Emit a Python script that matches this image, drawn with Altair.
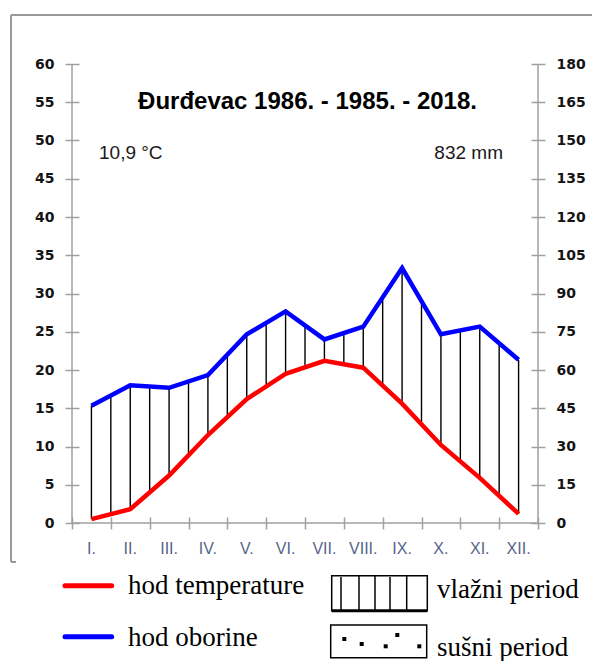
import altair as alt
import pandas as pd
import numpy as np

# ---------------- data ----------------
MONTHS = ["I.", "II.", "III.", "IV.", "V.", "VI.", "VII.", "VIII.", "IX.", "X.", "XI.", "XII."]
TEMP = [0.5, 1.8, 6.2, 11.5, 16.2, 19.5, 21.2, 20.3, 15.6, 10.2, 5.9, 1.2]       # °C
PRECIP = [46, 54, 53, 58, 74, 83, 72, 77, 100, 74, 77, 64]                      # mm
TEMP_TICKS = list(range(0, 61, 5))
PRECIP_TICKS = list(range(0, 181, 15))
TITLE = "Đurđevac 1986. - 1985. - 2018."
TEMP_LABEL = "10,9 °C"
PRECIP_LABEL = "832 mm"
LEGEND_LABELS = ["hod temperature", "hod oborine", "vlažni period", "sušni period"]

# ---------------- layout ----------------
W, H = 466, 459
AX = "#a0a0a0"

pos = [i + 0.5 for i in range(len(MONTHS))]
df = pd.DataFrame({"month": MONTHS, "pos": pos, "temp": TEMP, "precip": PRECIP})

# hatch (humid-period fill) drawn as vertical strokes between the two curves
hx = np.arange(0.5, 11.51, 0.5)
hatch = pd.DataFrame({
    "pos": hx,
    "lo": np.interp(hx, pos, TEMP),
    "hi": np.interp(hx, pos, np.array(PRECIP, dtype=float) / 3.0),
})

XS = alt.Scale(domain=[0, 12], nice=False, zero=False)
X_AXIS = alt.Axis(values=list(range(13)), labels=False, domain=False, grid=False,
                  ticks=True, tickSize=12, offset=-6, tickColor=AX, tickWidth=1.5,
                  title=None)

hatch_layer = alt.Chart(hatch).mark_rule(color="black", strokeWidth=1.4).encode(
    x=alt.X("pos:Q", scale=XS, axis=None),
    y=alt.Y("lo:Q", scale=alt.Scale(domain=[0, 60], nice=False), axis=None),
    y2="hi:Q",
)

temp_layer = alt.Chart(df).mark_line(color="#ff0000", strokeWidth=4.5).encode(
    x=alt.X("pos:Q", scale=XS, axis=X_AXIS),
    y=alt.Y("temp:Q", scale=alt.Scale(domain=[0, 60], nice=False),
            axis=alt.Axis(values=TEMP_TICKS, orient="left", offset=-7, tickSize=14,
                          domain=False, grid=False, tickColor=AX, tickWidth=1.5,
                          labelFont="DejaVu Sans", labelFontWeight="bold",
                          labelFontSize=14, labelColor="#141414", labelPadding=11,
                          title=None)),
)

precip_layer = alt.Chart(df).mark_line(color="#0000ff", strokeWidth=4.5).encode(
    x=alt.X("pos:Q", scale=XS, axis=None),
    y=alt.Y("precip:Q", scale=alt.Scale(domain=[0, 180], nice=False),
            axis=alt.Axis(values=PRECIP_TICKS, orient="right", offset=-7, tickSize=14,
                          domain=False, grid=False, tickColor=AX, tickWidth=1.5,
                          labelFont="DejaVu Sans", labelFontWeight="bold",
                          labelFontSize=14, labelColor="#141414", labelPadding=11,
                          title=None)),
)

month_layer = alt.Chart(df).mark_text(font="Liberation Sans", fontSize=16,
                                      color="#55658a", baseline="middle").encode(
    x=alt.X("pos:Q", scale=XS, axis=None),
    y=alt.value(485),
    text="month:N",
)

# ---------------- decorations (pixel space) ----------------
segs = pd.DataFrame({
    "x":  [0, W, 0, -61, -61, -61, 259.7, 269, 287, 303, 318, 334.7],
    "x2": [0, W, W, 540, -61, -56, 355.3, 269, 287, 303, 318, 334.7],
    "y":  [0, 0, H, -49, -49, 498, 546.7, 513, 511.7, 511.7, 513, 511.7],
    "y2": [H, H, H, -49, 498, 498, 546.7, 546, 546, 546, 546, 546],
    "c":  [AX, AX, AX, "#9a9a9a", "#9a9a9a", "#9a9a9a", "black", "black", "black", "black", "black", "black"],
    "w":  [1.5, 1.5, 1.5, 2, 2, 2, 3, 1.5, 1.5, 1.5, 1.5, 1.5],
})
seg_layer = alt.Chart(segs).mark_rule().encode(
    x=alt.X("x:Q", scale=None, axis=None), x2="x2:Q",
    y=alt.Y("y:Q", scale=None, axis=None), y2="y2:Q",
    color=alt.Color("c:N", scale=None, legend=None),
    strokeWidth=alt.StrokeWidth("w:Q", scale=None, legend=None),
)

leg_lines = pd.DataFrame({"x": [-7, -7], "x2": [39.7, 39.7], "y": [521.7, 572.7],
                          "c": ["#ff0000", "#0000ff"]})
leg_line_layer = alt.Chart(leg_lines).mark_rule(strokeWidth=5, strokeCap="round").encode(
    x=alt.X("x:Q", scale=None, axis=None), x2="x2:Q",
    y=alt.Y("y:Q", scale=None, axis=None),
    color=alt.Color("c:N", scale=None, legend=None),
)

boxes = pd.DataFrame({"x": [259.7, 258.7], "x2": [355.3, 354.7],
                      "y": [511.7, 561.0], "y2": [546.7, 593.7]})
box_layer = alt.Chart(boxes).mark_rect(fillOpacity=0, stroke="black", strokeWidth=1.5).encode(
    x=alt.X("x:Q", scale=None, axis=None), x2="x2:Q",
    y=alt.Y("y:Q", scale=None, axis=None), y2="y2:Q",
)

dots = pd.DataFrame({"x": [272.3, 289.7, 313.7, 325.3, 347.3],
                     "y": [575.0, 580.0, 582.3, 571.0, 582.3]})
dot_layer = alt.Chart(dots).mark_square(size=16, color="black", opacity=1).encode(
    x=alt.X("x:Q", scale=None, axis=None),
    y=alt.Y("y:Q", scale=None, axis=None),
)

leg_text = pd.DataFrame({"t": LEGEND_LABELS, "x": [56, 56, 365, 365],
                         "y": [530, 581.7, 534.3, 591.5]})
leg_text_layer = alt.Chart(leg_text).mark_text(font="Liberation Serif", fontSize=27,
                                               align="left", baseline="alphabetic",
                                               color="black").encode(
    x=alt.X("x:Q", scale=None, axis=None),
    y=alt.Y("y:Q", scale=None, axis=None),
    text="t:N",
)

one = pd.DataFrame({"a": [0]})
title_layer = alt.Chart(one).mark_text(text=TITLE, font="Liberation Sans", fontSize=24,
                                       fontWeight="bold", color="black",
                                       align="center", baseline="middle").encode(
    x=alt.value(235.5), y=alt.value(38))
tlabel_layer = alt.Chart(one).mark_text(text=TEMP_LABEL, font="Liberation Sans", fontSize=19,
                                        color="#1a1a1a", align="left",
                                        baseline="alphabetic").encode(
    x=alt.value(27), y=alt.value(95))
plabel_layer = alt.Chart(one).mark_text(text=PRECIP_LABEL, font="Liberation Sans", fontSize=19,
                                        color="#1a1a1a", align="right",
                                        baseline="alphabetic").encode(
    x=alt.value(431), y=alt.value(95))

chart = alt.layer(
    seg_layer, hatch_layer, temp_layer, precip_layer, month_layer,
    leg_line_layer, box_layer, dot_layer, leg_text_layer,
    title_layer, tlabel_layer, plabel_layer,
).resolve_scale(x="independent", y="independent").properties(
    width=W, height=H,
    padding={"left": 64, "top": 56, "right": 54, "bottom": 140},
    autosize=alt.AutoSizeParams(type="none"),
    background="white",
).configure_view(strokeWidth=0)

chart.save("out.html", embed_options={"renderer": "svg", "actions": False})
